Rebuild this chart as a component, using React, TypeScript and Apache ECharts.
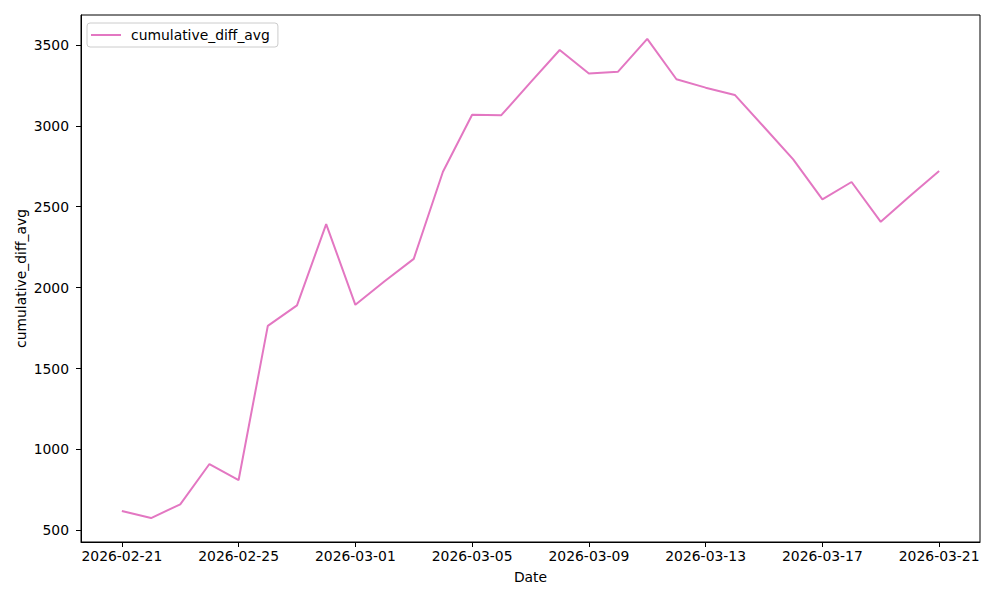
import React, { useEffect, useRef } from "react";
import * as echarts from "echarts";

const dates = [
  "2026-02-21", "2026-02-22", "2026-02-23", "2026-02-24", "2026-02-25", "2026-02-26", "2026-02-27", "2026-02-28",
  "2026-03-01", "2026-03-02", "2026-03-03", "2026-03-04", "2026-03-05", "2026-03-06", "2026-03-07", "2026-03-08",
  "2026-03-09", "2026-03-10", "2026-03-11", "2026-03-12", "2026-03-13", "2026-03-14", "2026-03-15", "2026-03-16",
  "2026-03-17", "2026-03-18", "2026-03-19", "2026-03-20", "2026-03-21",
];
const cumulativeDiffAvg = [
  620, 576, 661, 910, 811, 1764, 1890, 2393,
  1894, 2040, 2178, 2716, 3069, 3066, 3269, 3469,
  3323, 3335, 3537, 3288, 3236, 3191, 2993, 2793,
  2546, 2653, 2407, 2566, 2721,
];
const xTickIndices = [0, 4, 8, 12, 16, 20, 24, 28];
const yTicks = [500, 1000, 1500, 2000, 2500, 3000, 3500];

const FONT = "DejaVu Sans";

export default function App() {
  const ref = useRef<HTMLDivElement>(null);
  useEffect(() => {
    if (!ref.current) return;
    const chart = echarts.init(ref.current, null, { renderer: "svg" });
    const n = dates.length;
    const yMin = Math.min(...cumulativeDiffAvg);
    const yMax = Math.max(...cumulativeDiffAvg);
    const yPad = (yMax - yMin) * 0.05;
    const xPad = (n - 1) * 0.05;
    chart.setOption({
      animation: false,
      textStyle: { fontFamily: FONT },
      grid: {
        left: 81,
        right: 20,
        top: 15,
        bottom: 58,
        show: true,
        borderColor: "#000",
        borderWidth: 1,
        backgroundColor: "transparent",
      },
      legend: {
        left: 87,
        top: 23,
        orient: "vertical",
        padding: [5, 8, 5, 4],
        itemWidth: 30,
        itemHeight: 14,
        borderColor: "#cccccc",
        borderWidth: 1,
        borderRadius: 3,
        backgroundColor: "rgba(255,255,255,0.8)",
        textStyle: { fontFamily: FONT, fontSize: 13.9, color: "#000", padding: [0, 0, 0, 5] },
        data: [{ name: "cumulative_diff_avg", icon: "path://M0,0 L30,0 L30,2 L0,2 Z" }],
        itemStyle: { color: "#e377c2" },
      },
      xAxis: {
        type: "value",
        min: -xPad,
        max: n - 1 + xPad,
        name: "Date",
        nameLocation: "middle",
        nameGap: 28,
        nameMoveOverlap: false,
        nameTextStyle: { fontFamily: FONT, fontSize: 13.9, color: "#000" },
        axisLine: { show: true, onZero: false, lineStyle: { color: "#000", width: 1 } },
        axisTick: { show: true, length: 5, inside: false, customValues: xTickIndices, lineStyle: { color: "#000" } },
        axisLabel: {
          customValues: xTickIndices,
          formatter: (v: number) => dates[Math.round(v)] ?? "",
          fontFamily: FONT,
          fontSize: 13.9,
          color: "#000",
          margin: 7,
        },
        splitLine: { show: false },
      },
      yAxis: {
        type: "value",
        min: yMin - yPad,
        max: yMax + yPad,
        name: "cumulative_diff_avg",
        nameLocation: "middle",
        nameGap: 53,
        nameMoveOverlap: false,
        nameTextStyle: { fontFamily: FONT, fontSize: 13.9, color: "#000" },
        axisLine: { show: true, onZero: false, lineStyle: { color: "#000", width: 1 } },
        axisTick: { show: true, length: 5, inside: false, customValues: yTicks, lineStyle: { color: "#000" } },
        axisLabel: {
          customValues: yTicks,
          formatter: (v: number) => String(Math.round(v)),
          fontFamily: FONT,
          fontSize: 13.9,
          color: "#000",
          margin: 12,
        },
        splitLine: { show: false },
      },
      series: [
        {
          name: "cumulative_diff_avg",
          type: "line",
          symbol: "none",
          showSymbol: false,
          data: cumulativeDiffAvg.map((v, i) => [i, v]),
          lineStyle: { color: "#e377c2", width: 2 },
          itemStyle: { color: "#e377c2" },
        },
      ],
    });
    return () => chart.dispose();
  }, []);
  return (
    <div
      ref={ref}
      style={{ position: "absolute", left: 0, top: 0, width: 1000, height: 600, background: "#fff" }}
    />
  );
}
